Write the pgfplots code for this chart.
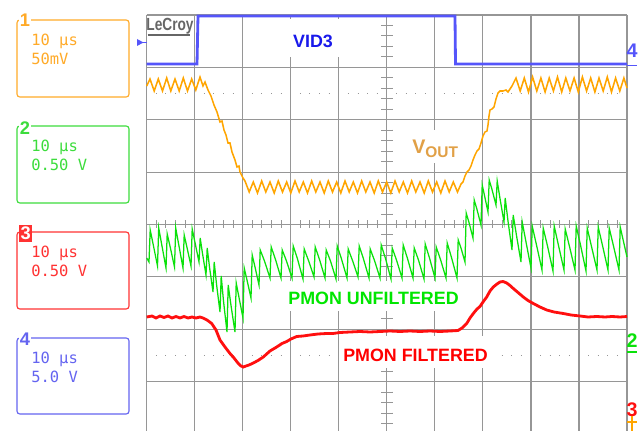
\documentclass[border=0pt]{standalone}
\usepackage{fontspec}
\setmainfont{Liberation Sans}
\newfontfamily\scopemono{DejaVu Sans Mono}
\usepackage{pgfplots}
\pgfplotsset{compat=1.18}

\definecolor{gridc}{RGB}{150,150,150}
\definecolor{trblue}{RGB}{85,85,250}
\definecolor{trorange}{RGB}{255,165,0}
\definecolor{trgreen}{RGB}{10,225,10}
\definecolor{trred}{RGB}{255,15,15}
\definecolor{lblblue}{RGB}{25,25,235}
\definecolor{lblgreen}{RGB}{0,230,0}
\definecolor{lblred}{RGB}{255,0,0}
\definecolor{lblvout}{RGB}{225,160,70}
\definecolor{boxorange}{RGB}{255,170,40}
\definecolor{boxgreen}{RGB}{60,220,60}
\definecolor{boxred}{RGB}{255,50,50}
\definecolor{boxblue}{RGB}{100,100,240}

% screen coordinates in pixels, origin top left
\begin{document}
\begin{tikzpicture}
\begin{axis}[
    width=16.1cm, height=10.775cm, scale only axis,
    xmin=0, xmax=644, ymin=0, ymax=431,
    y dir=reverse,
    hide axis,
]
% keep the full screen as the picture size
\path (0,0) rectangle (644,431);
% graticule
\pgfplotsinvokeforeach{0,...,10}{
  \draw[gridc, line width=0.8pt] ({146.7+48.03*#1},15) -- ({146.7+48.03*#1},431);
}
\pgfplotsinvokeforeach{0,...,7}{
  \draw[gridc, line width=0.8pt] (146.7,{15+52.375*#1}) -- (627,{15+52.375*#1});
}
% centre line ticks
\draw[gridc, line width=0.2cm, dash pattern=on 0.025cm off 0.21515cm] (155.8,224.5) -- (627,224.5);
\draw[gridc, line width=0.3cm, dash pattern=on 0.025cm off 0.236875cm] (386.85,25) -- (386.85,431);
% dotted reference rows
\draw[gridc, line width=0.6pt, dash pattern=on 0.025cm off 0.21515cm] (155.8,93.6) -- (627,93.6);
\draw[gridc, line width=0.6pt, dash pattern=on 0.025cm off 0.21515cm] (155.8,355.4) -- (627,355.4);

% label backgrounds
\fill[white] (283,19) rectangle (346,57);
\fill[white] (405,130) rectangle (468,163);
\fill[white] (283,281) rectangle (465,311);
\fill[white] (340,336) rectangle (497,368);

% channel 4: VID3
\addplot[trblue, line width=2pt] coordinates {
(146.7,64) (197,64) (198,16) (455,16) (455.5,64) (627,64)
};

% channel 1: VOUT
\addplot[trorange, line width=1.1pt] coordinates {
(146.7,86) (150,79) (154.2,91) (158.3,79) (162.5,91) (166.7,78) (170.8,91) (175,79)
(179.2,91) (183.3,78) (187.5,91) (191.7,79) (195.8,90) (200,77) (203,86) (205,82)
(208,90) (211,96) (214,105) (217,112) (220,122) (222,121) (224,130) (226,135)
(228,143) (230,143) (232,152) (235,160) (237,167) (239,166) (240,172) (243,178)
(245,181) (249.2,192) (253.3,182) (257.5,193) (261.7,181) (265.8,192) (270,182)
(274.2,193) (278.3,181) (282.5,192) (286.7,182) (290.8,193) (295,181) (299.2,192)
(303.3,182) (307.5,193) (311.7,181) (315.8,192) (320,182) (324.2,193) (328.3,181)
(332.5,192) (336.7,182) (340.8,193) (345,181) (349.2,192) (353.3,182) (357.5,193)
(361.7,181) (365.8,192) (370,182) (374.2,193) (378.3,181) (382.5,192) (386.7,182)
(390.8,193) (395,181) (399.2,192) (403.3,182) (407.5,193) (411.7,181) (415.8,192)
(420,182) (424.2,193) (428.3,181) (432.5,192) (436.7,182) (440.8,193) (445,181)
(449.2,192) (453.3,182) (457.5,192) (461,184) (463,182) (465,176) (467,172)
(469,170) (471,166) (473,160) (475,155) (477,151) (479,149) (481,143) (483,136)
(485,132) (487,131) (488,125) (489,116) (490,110) (492,109) (494,107) (496,99)
(498,93) (500,91) (503,91) (506,90) (508,92) (510,89) (512,86) (516,78)
(520.2,91) (524.3,78) (528.5,92) (532.6,77) (536.8,91) (540.9,78) (545.1,92)
(549.2,78) (553.4,91) (557.5,77) (561.7,92) (565.8,78) (570,91) (574.1,78)
(578.3,92) (582.4,77) (586.6,91) (590.7,78) (594.9,92) (599,78) (603.2,91)
(607.3,77) (611.5,92) (615.6,78) (619.8,91) (623.9,78) (627,88)
};

% channel 2: PMON unfiltered
\addplot[trgreen, line width=0.9pt] coordinates {
(146.7,258) (149,262) (150.2,230) (153.3,245) (157.5,266) (158.7,228) (161.8,245)
(166,268) (167.2,234) (170.3,247.5) (174.5,267) (175.7,228) (178.8,245)
(183,268) (184.2,235) (187,247.5) (191,266) (192.2,229) (195,242.5)
(199,262) (200.2,238) (202.5,253.5) (206,275) (207.2,248) (209.5,267)
(213,292) (214.2,262) (216.5,284) (220,312) (221.2,276) (223.5,301)
(227,332) (228.2,285) (231,305.5) (235,332) (236.2,283) (239,297.5)
(243,318) (244.2,268) (247,280) (251,298) (252.2,255) (255,267)
(259,285) (260.2,250) (264.5,261)
(270,278) (271.2,247) (275.5,259.5) (281,278) (282.2,250) (286.5,261)
(292,278) (293.2,246) (297.5,259) (303,279) (304.2,249) (308.5,260.5)
(314,277) (315.2,247) (319.5,259.5) (325,278) (326.2,250) (330.5,261)
(336,279) (337.2,246) (341.5,259) (347,278) (348.2,249) (352.5,260.5)
(358,277) (359.2,246) (363.5,259) (369,278) (370.2,249) (374.5,260.5)
(380,278) (381.2,245) (385.5,258.5) (391,279) (392.2,248) (396.5,260)
(402,278) (403.2,245) (407.5,258.5) (413,278) (414.2,248) (418.5,260)
(424,279) (425.2,244) (429.5,258) (435,278) (436.2,247) (440.5,259.5)
(446,278) (447.2,243) (451.5,257.5) (457,278) (458.2,240) (461,248)
(465,262) (466.2,213) (469,222.5) (473,238) (474.2,200) (477,209.5)
(481,225) (482.2,185) (484.5,195.5) (488,212) (489.2,180) (492,189.5)
(496,205) (497.2,181) (500,198.5) (504,222) (505.2,198) (508,221)
(512,250) (513.2,215) (516.5,235.5) (521,262) (522.2,222) (526,242)
(531,268) (532.2,226) (536.5,245)
(542,270) (543.2,228) (547.5,246) (553,271) (554.2,226) (558.5,245.5)
(564,270) (565.2,229) (569.5,246.5) (575,270) (576.2,226) (580.5,245)
(586,271) (587.2,228) (591.5,246.5) (597,270) (598.2,227) (602.5,245.5)
(608,270) (609.2,228) (613.5,246) (619,270) (620.2,227) (627,257)
};

% channel 3: PMON filtered
\addplot[trred, line width=2pt] coordinates {
(146.7,317) (152,316) (156,318) (160,316) (164,317.5) (168,316) (172,318)
(176,316.5) (180,318) (184,316.5) (188,318) (192,317) (196,318) (200,317)
(203,318) (207,320) (211.7,323.5) (216,330) (220,340) (225,347) (230,353.5)
(234,358) (238.3,363.5) (241,366) (243.3,367) (246,366) (249,365) (253.3,363)
(258,360.5) (263.3,357) (270,351) (276.7,347) (282,343.5) (286.7,341.5)
(291,339) (296.7,336.5) (303,336) (310,335) (318,334) (326.7,333.5) (333,333.5)
(340,332.5) (350,332) (360,331.5) (370,332) (380,331.5) (390,331) (400,331.5)
(410,331) (420,331.5) (430,331) (440,331.5) (450,331) (458,330.5) (462,328)
(466.7,323.5) (470,318) (473.3,313.5) (477,309) (480,306.5) (483,302)
(486.7,297) (490,291) (493.3,287) (497,284) (500,282) (503,281.5) (506.7,283)
(510,285.5) (513.3,288.5) (518,292.5) (523.3,297) (528,300.5) (533.3,303.5)
(540,307) (546.7,310) (554,312) (563.3,313.5) (571,315) (580,316) (588,317)
(596.7,316.5) (605,317) (612,316.5) (620,317) (627,316.5)
};

% trace labels
\node[lblblue, font={\fontsize{12.7}{14}\selectfont\bfseries}] at (313,41.7) {VID3};
\node[lblvout, anchor=base west, inner sep=0pt, font={\fontsize{14}{15}\selectfont\bfseries}]
  at (412,154) {V\raisebox{-2.8pt}{\fontsize{11}{12}\selectfont OUT}};
\node[lblgreen, font={\fontsize{12.7}{14}\selectfont\bfseries}] at (373.5,298.5) {PMON UNFILTERED};
\node[lblred, font={\fontsize{12.7}{14}\selectfont\bfseries}] at (415.5,355) {PMON FILTERED};

% LeCroy logo
\node[gray!80!black, xscale=0.78, inner sep=0pt, font={\fontsize{12.5}{13}\selectfont\bfseries}]
  at (170,26) {LeCroy};
\draw[gray!80!black, line width=1.4pt] (147.5,35.2) -- (190,35.2);

% channel boxes
\draw[boxorange, line width=0.8pt, rounded corners=2pt] (17,20) rectangle (129,97);
\node[boxorange, fill=white, inner sep=1pt, font={\fontsize{13}{14}\selectfont\bfseries}] at (25,20) {1};
\node[boxorange, anchor=base west, inner sep=0pt, font={\fontsize{11}{12}\selectfont\scopemono}] at (31,45.5) {10 μs};
\node[boxorange, anchor=base west, inner sep=0pt, font={\fontsize{11}{12}\selectfont\scopemono}] at (31,65) {50mV};

\draw[boxgreen, line width=0.8pt, rounded corners=2pt] (17,126) rectangle (129,203);
\node[boxgreen, fill=white, inner sep=1pt, font={\fontsize{13}{14}\selectfont\bfseries}] at (25,128) {2};
\node[boxgreen, anchor=base west, inner sep=0pt, font={\fontsize{11}{12}\selectfont\scopemono}] at (31,151.5) {10 μs};
\node[boxgreen, anchor=base west, inner sep=0pt, font={\fontsize{11}{12}\selectfont\scopemono}] at (31,171) {0.50 V};

\draw[boxred, line width=0.8pt, rounded corners=2pt] (17,232) rectangle (129,309);
\node[fill=boxred, text=white, inner sep=1.2pt, font={\fontsize{13}{14}\selectfont\bfseries}] at (25.7,233.5) {3};
\node[boxred, anchor=base west, inner sep=0pt, font={\fontsize{11}{12}\selectfont\scopemono}] at (31,257.5) {10 μs};
\node[boxred, anchor=base west, inner sep=0pt, font={\fontsize{11}{12}\selectfont\scopemono}] at (31,277) {0.50 V};

\draw[boxblue, line width=0.8pt, rounded corners=2pt] (17,338) rectangle (129,414);
\node[boxblue, fill=white, inner sep=1pt, font={\fontsize{13}{14}\selectfont\bfseries}] at (25,339) {4};
\node[boxblue, anchor=base west, inner sep=0pt, font={\fontsize{11}{12}\selectfont\scopemono}] at (31,363.5) {10 μs};
\node[boxblue, anchor=base west, inner sep=0pt, font={\fontsize{11}{12}\selectfont\scopemono}] at (31,383) {5.0 V};

% trace markers
\fill[trblue] (137,39) -- (143.5,42.5) -- (137,46) -- cycle;
\draw[trblue, line width=0.8pt] (143,42.5) -- (146.7,42.5);
\node[trblue, inner sep=0pt, font={\fontsize{14}{15}\selectfont\bfseries}] at (632,51) {4};
\draw[trblue, line width=1pt] (627,65.5) -- (637,65.5);
\node[trgreen, inner sep=0pt, font={\fontsize{14}{15}\selectfont\bfseries}] at (632,341) {2};
\draw[trgreen, line width=1pt] (627,352) -- (637,352);
\node[trred, inner sep=0pt, font={\fontsize{14}{15}\selectfont\bfseries}] at (632,410) {3};
\draw[trorange, line width=1pt] (632,416) -- (632,431);
\draw[trorange, line width=1pt] (627,422) -- (637,422);
\end{axis}
\end{tikzpicture}
\end{document}
